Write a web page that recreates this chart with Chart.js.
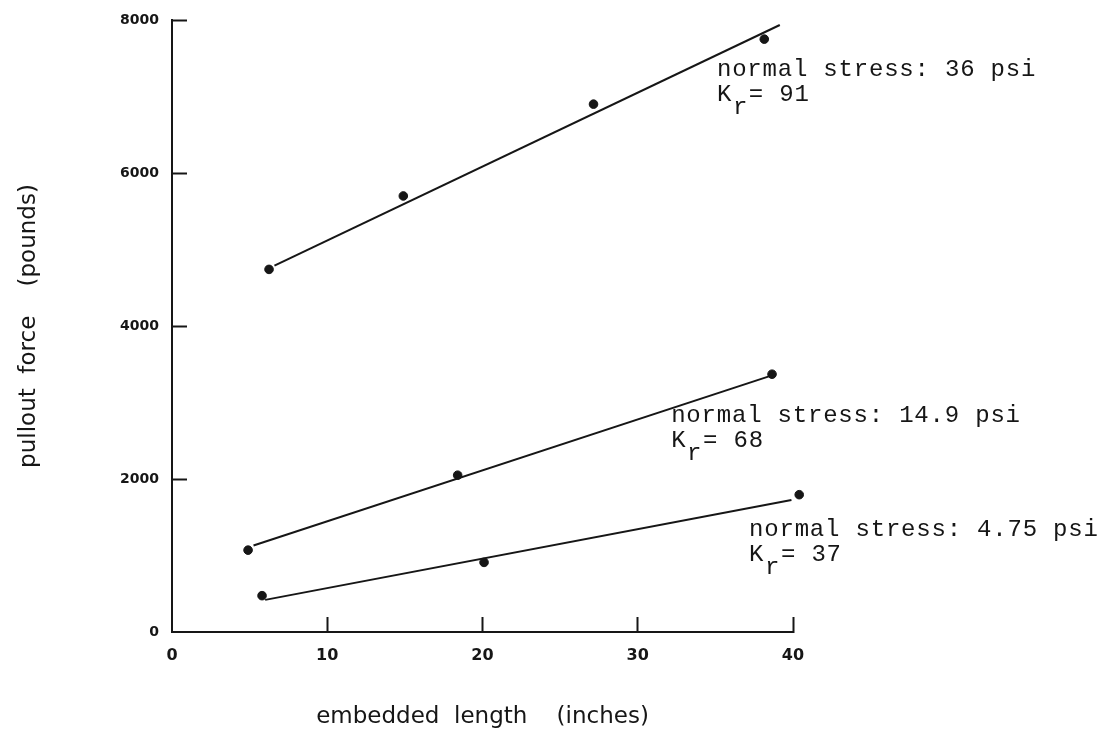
<!DOCTYPE html>
<html>
<head>
<meta charset="utf-8">
<script src="https://cdn.jsdelivr.net/npm/chart.js@4.4.1/dist/chart.umd.min.js"></script>
<style>
    body { margin: 0; background: #fff; }
    #chartPullout { display: block; }
</style>
</head>
<body>
<canvas id="chartPullout" width="1102" height="733"></canvas>
<script>
// measured points (embedded length in inches, pullout force in pounds)
const largo36 = [6.25, 14.9, 27.15, 38.15];
const fuerza36 = [4740, 5700, 6900, 7750];
const largo149 = [4.9, 18.4, 38.65];
const fuerza149 = [1070, 2050, 3370];
const largo475 = [5.8, 20.1, 40.4];
const fuerza475 = [475, 910, 1795];

// fitted lines (end points)
const rectaX36 = [6.6, 39.15];
const rectaY36 = [4790, 7935];
const rectaX149 = [5.25, 38.5];
const rectaY149 = [1130, 3345];
const rectaX475 = [6.0, 39.9];
const rectaY475 = [420, 1725];

// annotations: text lines and anchor in data units
const etiquetas = [
    { texto: "normal stress: 36 psi", kr: "91", x: 35.1, y: 7268 },
    { texto: "normal stress: 14.9 psi", kr: "68", x: 32.15, y: 2749 },
    { texto: "normal stress: 4.75 psi", kr: "37", x: 37.17, y: 1255 },
];

const xTicks = [0, 10, 20, 30, 40];
const yTicks = [0, 2000, 4000, 6000, 8000];

const tinta = "#161616";

function pares(xs, ys) {
    return xs.map((x, i) => ({ x: x, y: ys[i] }));
}

function puntos(xs, ys) {
    return {
        type: "scatter",
        data: pares(xs, ys),
        backgroundColor: tinta,
        borderColor: tinta,
        pointRadius: 4.3,
        pointHoverRadius: 4.3,
        clip: false,
    };
}

function recta(xs, ys) {
    return {
        type: "line",
        data: pares(xs, ys),
        borderColor: tinta,
        borderWidth: 2,
        pointRadius: 0,
        fill: false,
        clip: false,
    };
}

// points a bit past the axis end are skipped by Chart.js, draw them anyway
const pluginFuera = {
    id: "fuera",
    afterDatasetsDraw(chart) {
        const a = chart.chartArea;
        const grande = { left: -1e4, top: -1e4, right: 1e4, bottom: 1e4 };
        chart.data.datasets.forEach((ds, i) => {
            if (ds.type !== "scatter") return;
            chart.getDatasetMeta(i).data.forEach((el) => {
                if (el.x > a.right + 2 || el.x < a.left - 2) el.draw(chart.ctx, grande);
            });
        });
    },
};

const pluginEtiquetas = {
    id: "etiquetas",
    afterDatasetsDraw(chart) {
        const ctx = chart.ctx;
        const sx = chart.scales.x;
        const sy = chart.scales.y;
        ctx.save();
        ctx.fillStyle = tinta;
        ctx.font = "24px 'Liberation Mono'";
        ctx.letterSpacing = "0.8px";
        ctx.textBaseline = "alphabetic";
        ctx.textAlign = "left";
        const paso = ctx.measureText("n").width;
        etiquetas.forEach((e) => {
            const px = sx.getPixelForValue(e.x);
            const py = sy.getPixelForValue(e.y);
            ctx.fillText(e.texto, px, py);
            ctx.fillText("K", px, py + 25);
            ctx.fillText("r", px + paso * 1.05, py + 38);
            ctx.fillText("= " + e.kr, px + paso * 2.1, py + 25);
        });
        ctx.restore();
    },
};

const sinCero = (c) => (c.tick && c.tick.value === 0 ? "rgba(0,0,0,0)" : tinta);

new Chart(document.getElementById("chartPullout"), {
    data: {
        datasets: [
            recta(rectaX36, rectaY36),
            recta(rectaX149, rectaY149),
            recta(rectaX475, rectaY475),
            puntos(largo36, fuerza36),
            puntos(largo149, fuerza149),
            puntos(largo475, fuerza475),
        ],
    },
    options: {
        responsive: false,
        animation: false,
        events: [],
        layout: {
            padding: { left: 0, top: 20, right: 309, bottom: 0 },
        },
        plugins: {
            legend: { display: false },
            tooltip: { enabled: false },
        },
        scales: {
            x: {
                type: "linear",
                min: 0,
                max: 40,
                afterFit(scale) { scale.height = 101; },
                afterBuildTicks(scale) { scale.ticks = xTicks.map((v) => ({ value: v })); },
                border: { display: true, color: tinta, width: 2 },
                grid: {
                    drawOnChartArea: false,
                    tickLength: -15,
                    tickWidth: 2,
                    tickColor: sinCero,
                },
                ticks: {
                    color: tinta,
                    padding: 29,
                    maxRotation: 0,
                    callback: (v) => String(v),
                    font: { family: "'DejaVu Sans'", size: 16, weight: "bold" },
                },
                title: {
                    display: true,
                    text: "embedded  length    (inches)",
                    color: tinta,
                    font: { family: "'DejaVu Sans'", size: 23 },
                    padding: { top: 0, bottom: 2 },
                },
            },
            y: {
                type: "linear",
                min: 0,
                max: 8000,
                afterFit(scale) {
                    scale.width = 172;
                    scale.paddingTop = 0;
                    scale.paddingBottom = 0;
                },
                afterBuildTicks(scale) { scale.ticks = yTicks.map((v) => ({ value: v })); },
                border: { display: true, color: tinta, width: 2 },
                grid: {
                    drawOnChartArea: false,
                    tickLength: -15,
                    tickWidth: 2,
                    tickColor: sinCero,
                },
                ticks: {
                    color: tinta,
                    padding: 28,
                    callback: (v) => String(v),
                    font: { family: "'DejaVu Sans'", size: 14, weight: "bold" },
                },
                title: {
                    display: true,
                    text: "pullout  force    (pounds)",
                    color: tinta,
                    font: { family: "'DejaVu Sans'", size: 23 },
                    padding: { top: 15, bottom: 0 },
                },
            },
        },
    },
    plugins: [pluginFuera, pluginEtiquetas],
});
</script>
</body>
</html>
